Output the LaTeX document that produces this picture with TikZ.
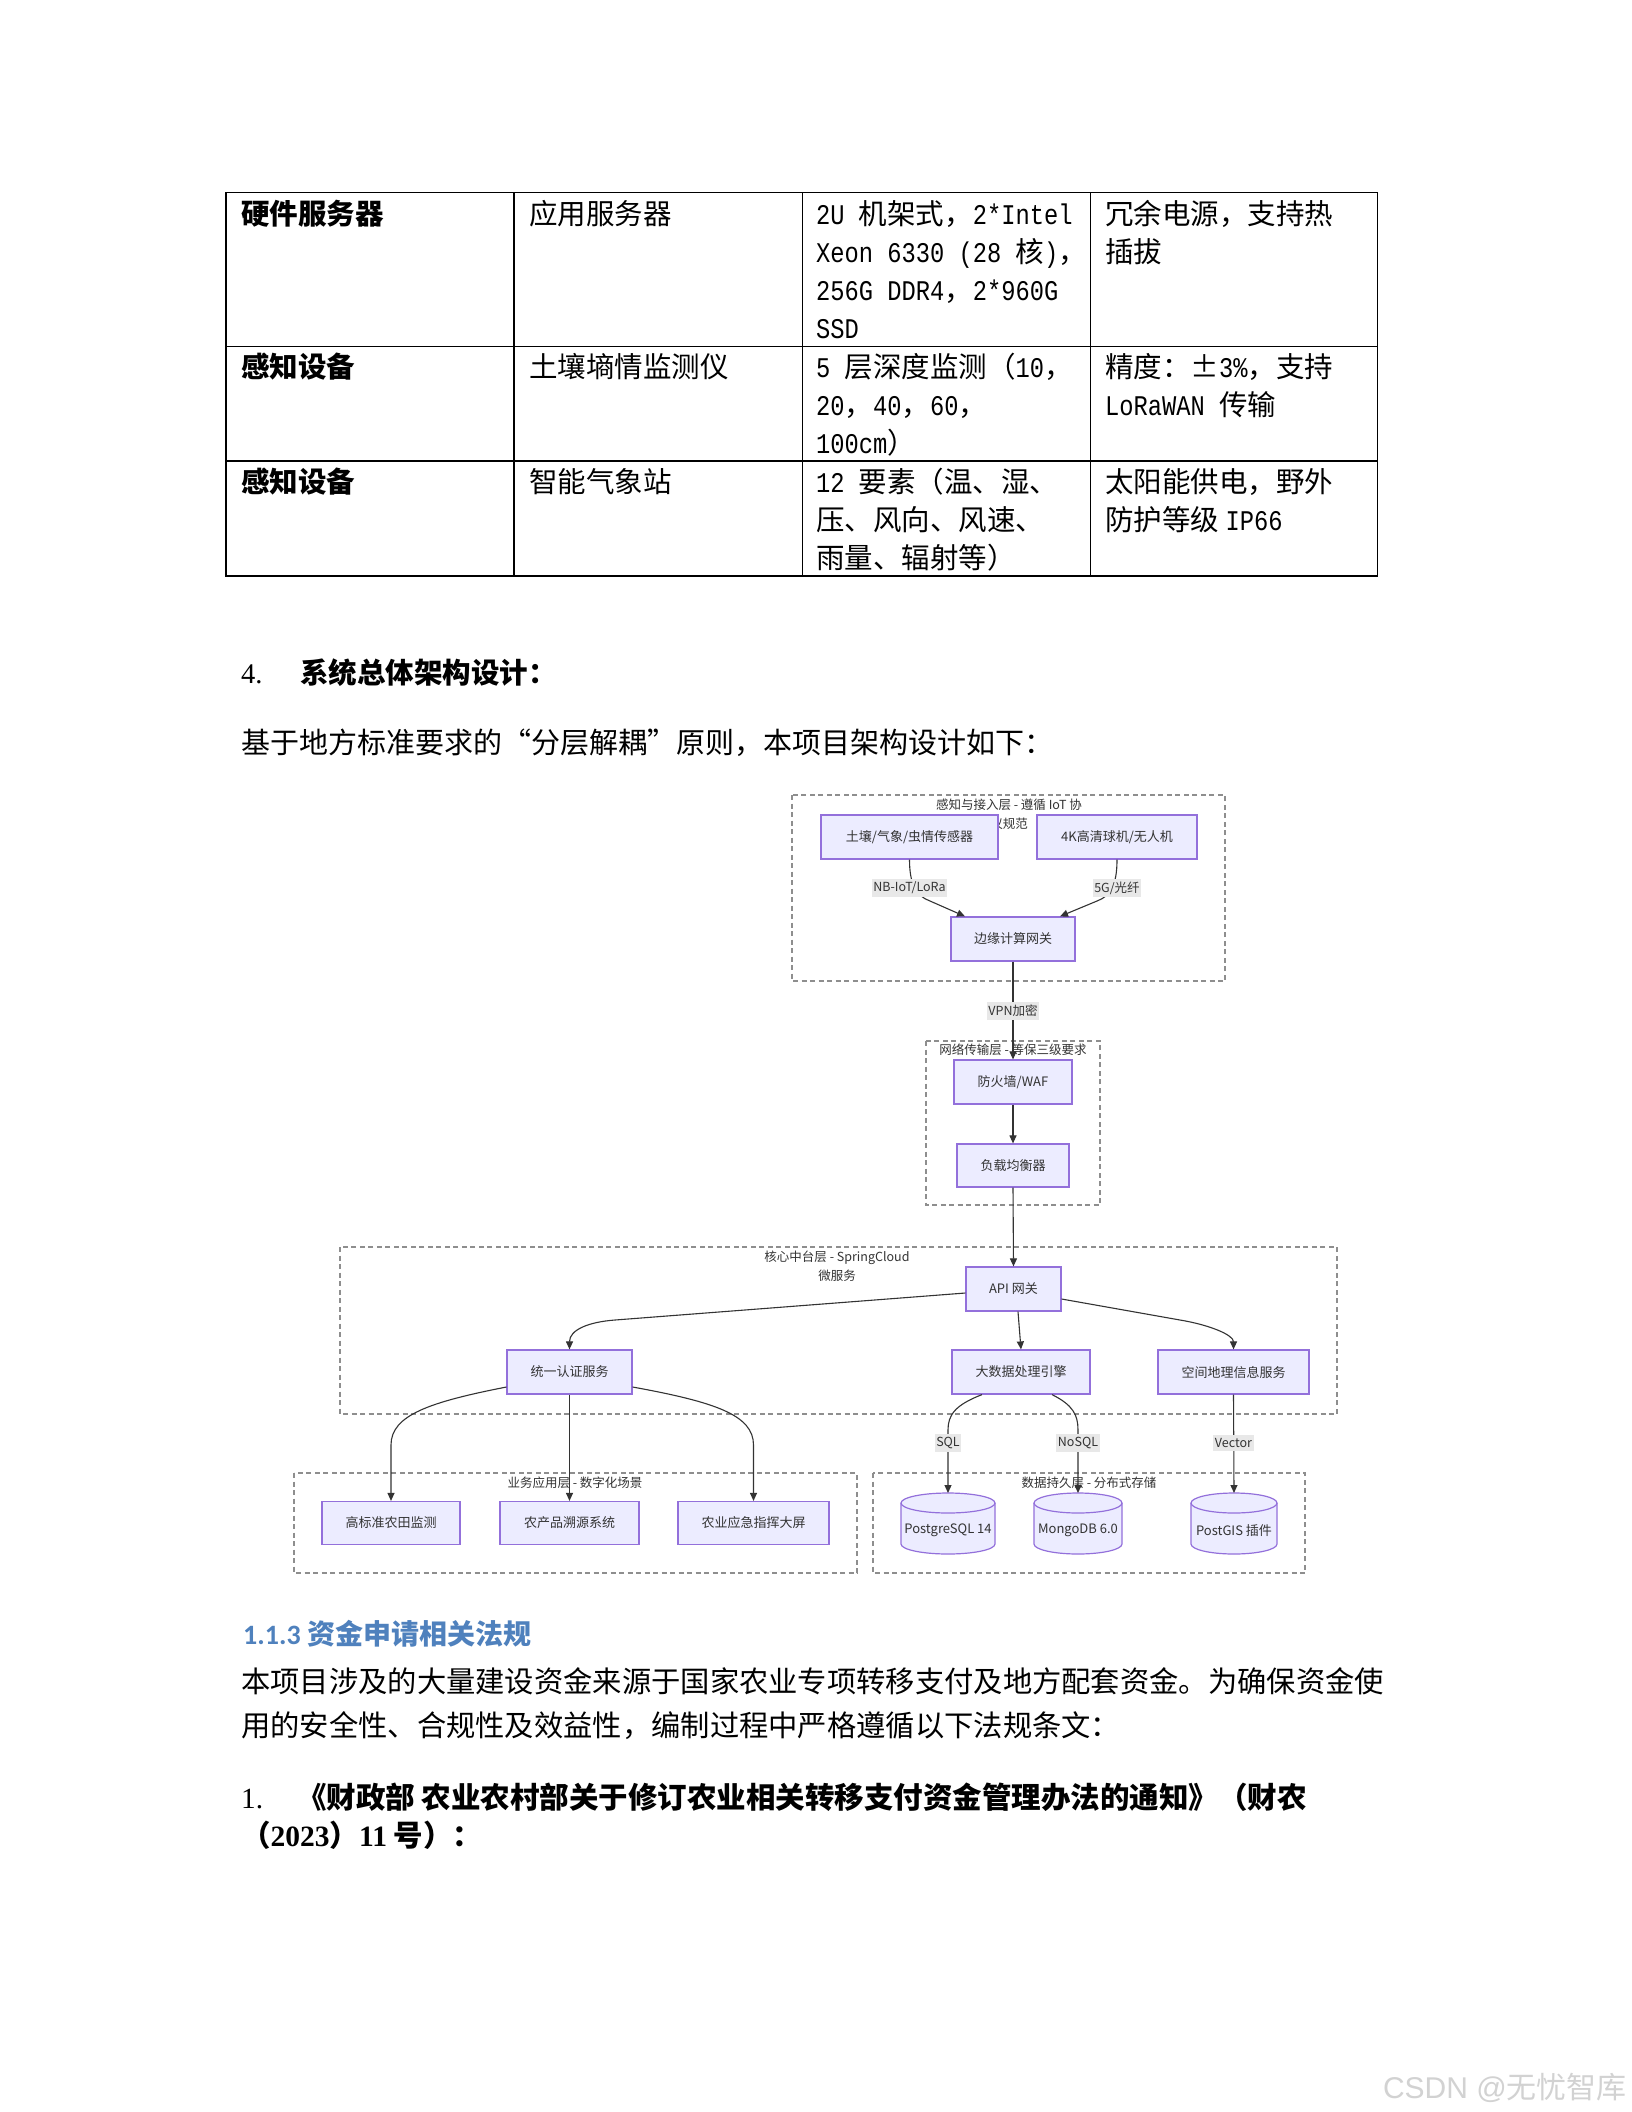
\documentclass[tikz,border=0pt]{standalone}
\usepackage{fontspec}
\setmainfont{Noto Sans CJK SC}
\newfontfamily\latm[FakeStretch=0.8333]{Liberation Mono}
\newfontfamily\lser{Liberation Serif}
\newfontfamily\carl{Carlito}
\newfontfamily\lsans{Liberation Sans}
\usetikzlibrary{arrows.meta,calc}
\definecolor{mpurple}{HTML}{9370DB}
\definecolor{mfill}{HTML}{ECECFF}
\definecolor{mtext}{HTML}{333333}
\definecolor{edgec}{HTML}{333333}
\definecolor{cgray}{HTML}{8E8E8E}
\definecolor{lblgray}{HTML}{E8E8E8}
\definecolor{hblue}{HTML}{4F81BD}
\definecolor{wmark}{HTML}{D2D2D2}
\newcommand\dbcyl[2]{%
  \path[fill=mfill,draw=mpurple,line width=1.2pt] (#1-#2,1503) -- (#1-#2,1544)
    arc[start angle=180,end angle=0,x radius=#2,y radius=10] -- (#1+#2,1503)
    arc[start angle=0,end angle=-180,x radius=#2,y radius=10] -- cycle;
  \draw[draw=mpurple,line width=1.2pt] (#1+#2,1503) arc[start angle=0,end angle=180,x radius=#2,y radius=10];}
\begin{document}
\begin{tikzpicture}[x=1pt,y=-1pt,
  tline/.style={line width=1.3pt,draw=black},
  tcell/.style={anchor=base west,inner sep=0pt,font=\fontsize{28.5}{38}\selectfont},
  tbold/.style={anchor=base west,inner sep=0pt,font=\fontsize{28.5}{38}\selectfont\bfseries},
  itext/.style={anchor=base west,inner sep=0pt,font=\fontsize{29}{38}\selectfont},
  ptext/.style={anchor=base west,inner sep=0pt,font=\fontsize{29.3}{43}\selectfont},
  pbold/.style={anchor=base west,inner sep=0pt,font=\fontsize{29.5}{38}\selectfont\bfseries},
  mbox/.style={draw=mpurple,fill=mfill,line width=1.2pt,inner sep=0pt,text=mtext,font=\fontsize{13}{15}\selectfont},
  dbtext/.style={draw=none,inner sep=0pt,anchor=north,minimum height=74,text=mtext,font=\fontsize{13}{15}\selectfont},
  cluster/.style={draw=cgray,line width=1.2pt,dash pattern=on 5pt off 3.5pt},
  ctitle/.style={inner sep=0pt,align=center,text=mtext,font=\fontsize{12.5}{19.5}\selectfont},
  elabel/.style={fill=lblgray,inner xsep=1.5pt,inner ysep=3pt,text=mtext,font=\fontsize{12.5}{14}\selectfont},
  edge/.style={draw=edgec,line width=1.1pt,-{Triangle[length=8pt,width=7pt]}}]
\fill[white] (0,0) rectangle (1632,2112);
\useasboundingbox (0,0) rectangle (1632,2112);

% ---------------- table ----------------
\draw[tline] (226,192.5) rectangle (1377.5,576);
\draw[tline] (226,346.5) -- (1377.5,346.5) (226,461) -- (1377.5,461)
  (514,192.5) -- (514,576) (802.5,192.5) -- (802.5,576) (1090.5,192.5) -- (1090.5,576);
% row 1
\node[tbold] (r1c1) at (241,224) {硬件服务器};
\node[tcell] (r1c2) at (529,224) {应用服务器};
\node[tcell] (r1c3a) at (816,224) {{\latm 2U }机架式，{\latm 2*Intel}};
\node[tcell] (r1c3b) at (816,262) {{\latm Xeon 6330 (28 }核{\latm )}，};
\node[tcell] (r1c3c) at (816,300) {{\latm 256G DDR4}，{\latm 2*960G}};
\node[tcell] (r1c3d) at (816,338) {{\latm SSD}};
\node[tcell] (r1c4a) at (1105,224) {冗余电源，支持热};
\node[tcell] (r1c4b) at (1105,262) {插拔};
% row 2
\node[tbold] (r2c1) at (241,377.5) {感知设备};
\node[tcell] (r2c2) at (529,377.5) {土壤墒情监测仪};
\node[tcell] (r2c3a) at (816,377.5) {{\latm 5 }层深度监测（{\latm 10}，};
\node[tcell] (r2c3b) at (816,415.5) {{\latm 20}，{\latm 40}，{\latm 60}，};
\node[tcell] (r2c3c) at (816,453.5) {{\latm 100cm}）};
\node[tcell] (r2c4a) at (1105,377.5) {精度：±{\latm 3\%}，支持};
\node[tcell] (r2c4b) at (1105,415.5) {{\latm LoRaWAN }传输};
% row 3
\node[tbold] (r3c1) at (241,492) {感知设备};
\node[tcell] (r3c2) at (529,492) {智能气象站};
\node[tcell] (r3c3a) at (816,492) {{\latm 12 }要素（温、湿、};
\node[tcell] (r3c3b) at (816,530) {压、风向、风速、};
\node[tcell] (r3c3c) at (816,568) {雨量、辐射等）};
\node[tcell] (r3c4a) at (1105,492) {太阳能供电，野外};
\node[tcell] (r3c4b) at (1105,530) {防护等级 {\latm IP66}};

% ---------------- body text ----------------
\node[tcell] (n4) at (241,683) {{\lser 4.}};
\node[tbold] (h4) at (300,683) {系统总体架构设计：};
\node[itext] (intro) at (241,753) {基于地方标准要求的“分层解耦”原则，本项目架构设计如下：};

% ---------------- diagram: clusters ----------------
\draw[cluster] (792,795) rectangle (1225,981);
\draw[cluster] (926,1041) rectangle (1100,1205);
\draw[cluster] (340,1247) rectangle (1337,1414);
\draw[cluster] (294,1473) rectangle (857,1573);
\draw[cluster] (873,1473) rectangle (1305,1573);
\node[ctitle] (l1t) at (1009,814.5) {感知与接入层 - 遵循 IoT 协\\议规范};
\node[ctitle] (l2t) at (1013,1050) {网络传输层 - 等保三级要求};
\node[ctitle] (l3t) at (837,1266) {核心中台层 - SpringCloud\\微服务};
\node[ctitle] (l4t) at (575,1483) {业务应用层 - 数字化场景};
\node[ctitle] (l5t) at (1089,1483) {数据持久层 - 分布式存储};

% ---------------- diagram: nodes ----------------
\node[mbox,minimum width=177,minimum height=44] (s1) at (909.5,837) {土壤/气象/虫情传感器};
\node[mbox,minimum width=160,minimum height=44] (s2) at (1117,837) {4K高清球机/无人机};
\node[mbox,minimum width=124,minimum height=44] (gw) at (1013,939) {边缘计算网关};
\node[mbox,minimum width=118,minimum height=44] (fw) at (1013,1082) {防火墙/WAF};
\node[mbox,minimum width=112,minimum height=43] (lb) at (1013,1165.5) {负载均衡器};
\node[mbox,minimum width=95,minimum height=44] (api) at (1013.5,1289) {API 网关};
\node[mbox,minimum width=125,minimum height=44] (auth) at (569.5,1372) {统一认证服务};
\node[mbox,minimum width=138,minimum height=44] (bigd) at (1021,1372) {大数据处理引擎};
\node[mbox,minimum width=151,minimum height=44] (geo) at (1233.5,1372) {空间地理信息服务};
\node[mbox,minimum width=138,minimum height=43] (app1) at (391,1523) {高标准农田监测};
\node[mbox,minimum width=139,minimum height=43] (app2) at (569.5,1523) {农产品溯源系统};
\node[mbox,minimum width=151,minimum height=43] (app3) at (753.5,1523) {农业应急指挥大屏};
\dbcyl{948}{47}
\dbcyl{1078}{44}
\dbcyl{1234}{43}
\node[dbtext,minimum width=94] (pg) at (948,1493) {PostgreSQL 14};
\node[dbtext,minimum width=88] (mg) at (1078,1493) {MongoDB 6.0};
\node[dbtext,minimum width=86] (gis) at (1234,1493) {PostGIS 插件};

% ---------------- diagram: edges ----------------
\draw[edge] (s1.south) .. controls (909.5,884) and (916,896) .. (930,901) -- ($(gw.north)+(-48,0)$);
\draw[edge] (s2.south) .. controls (1117,884) and (1111,896) .. (1097,901) -- ($(gw.north)+(47,0)$);
\draw[edge] (gw.south) -- (fw.north);
\draw[edge] (fw.south) -- (lb.north);
\draw[edge] (lb.south) -- (api.north);
\draw[edge] ($(api.west)+(0,4)$) -- (615,1320) .. controls (588,1322) and (569.5,1330) .. (auth.north);
\draw[edge] ($(api.south)+(4.5,0)$) -- (bigd.north);
\draw[edge] ($(api.east)+(0,10)$) -- (1180,1320) .. controls (1210,1325) and (1233.5,1335) .. (geo.north);
\draw[edge] ($(auth.west)+(0,15)$) .. controls (430,1402) and (391,1415) .. (391,1445) -- (app1.north);
\draw[edge] (auth.south) -- (app2.north);
\draw[edge] ($(auth.east)+(0,15)$) .. controls (715,1402) and (753.5,1415) .. (753.5,1445) -- (app3.north);
\draw[edge] ($(bigd.south)+(-39,0)$) .. controls (955,1405) and (948,1415) .. (948,1430) -- (pg.north);
\draw[edge] ($(bigd.south)+(31,0)$) .. controls (1073,1405) and (1078,1415) .. (1078,1430) -- (mg.north);
\draw[edge] (geo.south) -- (gis.north);

% ---------------- diagram: edge labels ----------------
\node[elabel] (lnb) at (909.5,888) {NB-IoT/LoRa};
\node[elabel] (l5g) at (1117,888) {5G/光纤};
\node[elabel] (lvpn) at (1013,1011) {VPN加密};
\node[elabel] (lsql) at (948,1443) {SQL};
\node[elabel] (lnosql) at (1078,1443) {NoSQL};
\node[elabel] (lvec) at (1233.5,1443) {Vector};

% ---------------- text after diagram ----------------
\node[anchor=base west,inner sep=0pt,text=hblue,font=\fontsize{28}{34}\selectfont\bfseries] (h113) at (243,1644) {{\carl 1.1.3} 资金申请相关法规};
\node[ptext] (p1) at (241,1692) {本项目涉及的大量建设资金来源于国家农业专项转移支付及地方配套资金。为确保资金使};
\node[ptext] (p2) at (241,1736) {用的安全性、合规性及效益性，编制过程中严格遵循以下法规条文：};
\node[ptext] (li1n) at (241,1808) {{\lser 1.}};
\node[pbold] (li1a) at (297,1808) {《财政部 农业农村部关于修订农业相关转移支付资金管理办法的通知》（财农};
\node[pbold] (li1b) at (241,1846) {（{\lser\bfseries 2023}）{\lser\bfseries 11} 号）：};

% watermark
\node[anchor=base east,inner sep=0pt,text=wmark,font=\fontsize{30}{34}\selectfont] (wm) at (1627,2098) {{\lsans CSDN @}无忧智库};
\end{tikzpicture}
\end{document}
